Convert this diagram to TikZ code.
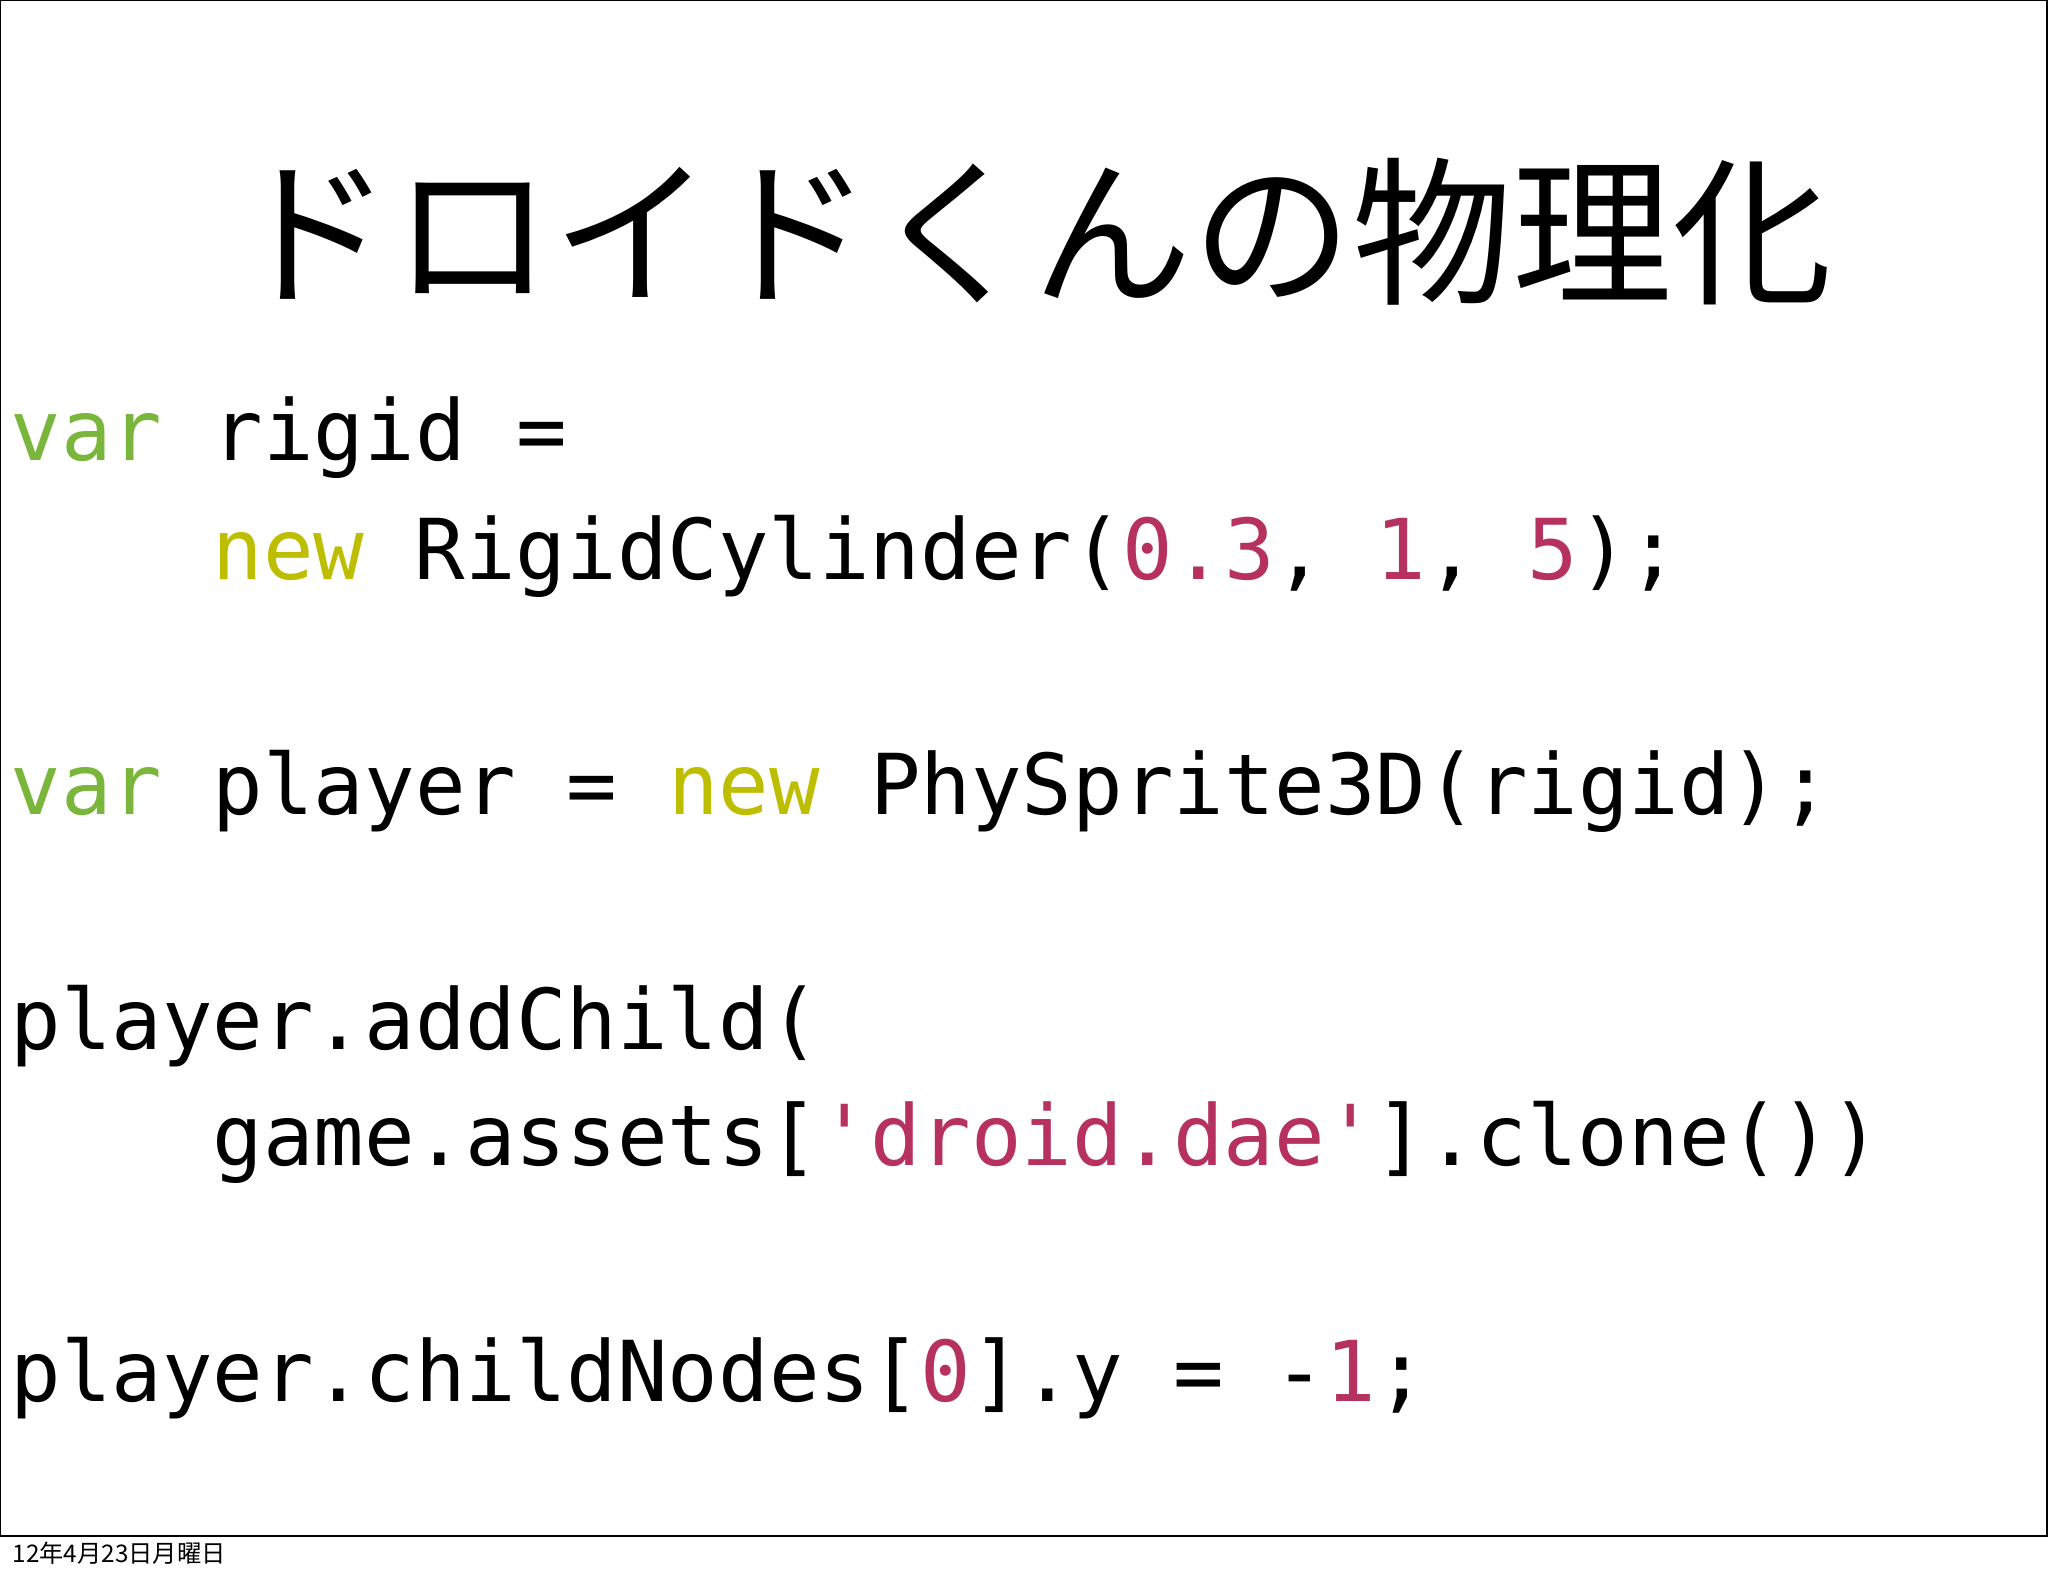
\documentclass[tikz,border=0pt]{standalone}
\usepackage{fontspec}
\setmonofont{DejaVu Sans Mono}
\newfontfamily\jpfont{Noto Sans CJK JP}
\definecolor{kwvar}{RGB}{122,182,60}
\definecolor{kwnew}{RGB}{190,190,0}
\definecolor{lit}{RGB}{182,48,96}
\begin{document}
\begin{tikzpicture}[x=0.35pt,y=-0.35pt,
  code/.style={anchor=base west,inner sep=0pt,font=\fontsize{29.4pt}{30pt}\ttfamily},
  titlestyle/.style={inner sep=0pt,font=\fontsize{56pt}{60pt}\jpfont},
  footer/.style={anchor=base west,inner sep=0pt,font=\fontsize{8.5pt}{9pt}\jpfont}]
\useasboundingbox (0,0) rectangle (2048,1576);
\draw[line width=0.6pt] (0,0) rectangle (2047,1536);
\node[titlestyle] (title) at (1032,232) {ドロイドくんの物理化};
\node[code] (l1) at (10,460) {\textcolor{kwvar}{var} rigid =};
\node[code] (l2) at (212,579) {\textcolor{kwnew}{new} RigidCylinder(\textcolor{lit}{0.3}, \textcolor{lit}{1}, \textcolor{lit}{5});};
\node[code] (l3) at (10,814) {\textcolor{kwvar}{var} player = \textcolor{kwnew}{new} PhySprite3D(rigid);};
\node[code] (l4) at (10,1049) {player.addChild(};
\node[code] (l5) at (212,1165) {game.assets[\textcolor{lit}{'droid.dae'}].clone())};
\node[code] (l6) at (10,1401) {player.childNodes[\textcolor{lit}{0}].y = -\textcolor{lit}{1};};
\node[footer] (foot) at (12,1562) {12年4月23日月曜日};
\end{tikzpicture}
\end{document}
